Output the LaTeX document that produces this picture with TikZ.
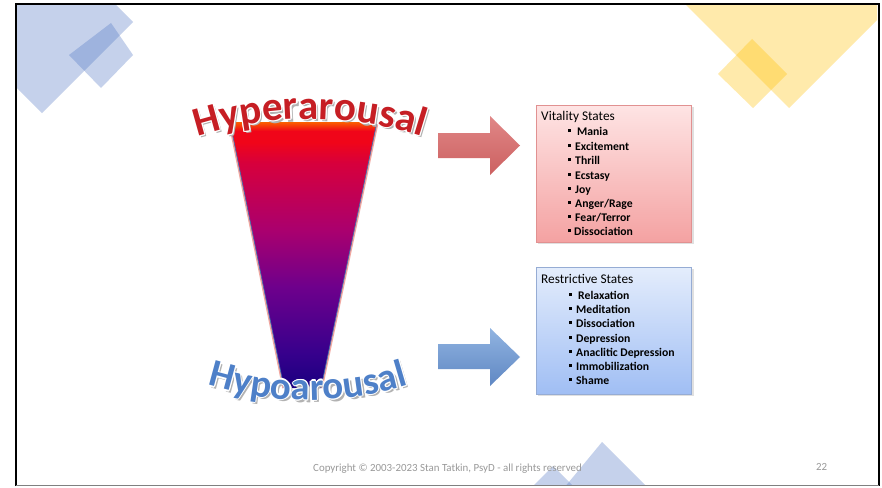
\documentclass[tikz,border=0pt]{standalone}
\usepackage{fontspec}
\setmainfont{Carlito}
\usetikzlibrary{decorations.text}

\definecolor{decoblue}{RGB}{79,118,196}
\definecolor{decoyellow}{RGB}{255,192,0}
\definecolor{fOrange}{RGB}{250,95,0}
\definecolor{fRed}{RGB}{240,5,25}
\definecolor{fCrimson}{RGB}{215,0,60}
\definecolor{fMagenta}{RGB}{170,0,110}
\definecolor{fPurple}{RGB}{110,0,140}
\definecolor{fIndigo}{RGB}{55,0,140}
\definecolor{fNavy}{RGB}{25,0,128}
\definecolor{fEdge}{RGB}{70,110,175}
\definecolor{fGlow}{RGB}{235,130,120}
\definecolor{hyperred}{RGB}{198,30,36}
\definecolor{hypoblue}{RGB}{78,128,200}
\definecolor{pinktop}{RGB}{254,228,228}
\definecolor{pinkbot}{RGB}{244,162,162}
\definecolor{pinkline}{RGB}{225,145,145}
\definecolor{bluetop}{RGB}{228,237,252}
\definecolor{bluebot}{RGB}{160,190,244}
\definecolor{blueline}{RGB}{150,172,212}
\definecolor{arrowredtop}{RGB}{224,135,135}
\definecolor{arrowredbot}{RGB}{204,96,96}
\definecolor{arrowbluetop}{RGB}{145,180,225}
\definecolor{arrowbluebot}{RGB}{95,135,195}

\pgfdeclareverticalshading{funnelshade}{100bp}{color(0bp)=(fNavy); color(25bp)=(fNavy); color(31.6bp)=(fIndigo); color(44bp)=(fPurple); color(54.7bp)=(fMagenta); color(67.3bp)=(fCrimson); color(71.2bp)=(fRed); color(73.3bp)=(fRed); color(75bp)=(fOrange); color(100bp)=(fOrange)}

\newcommand{\hyperfont}{\fontsize{41}{41}\selectfont\bfseries}
\newcommand{\hypofont}{\fontsize{39}{39}\selectfont\bfseries}
\newcommand{\sqbullet}{\rule{3.2pt}{3.2pt}}

\tikzset{
  deco/.style={fill=#1, fill opacity=0.33},
  hyperarc/.style={decorate, decoration={text along path, text align=center, text={|\hyperfont|Hyperarousal}}},
  hypoarc/.style={decorate, decoration={text along path, text align=center, text={|\hypofont|Hypoarousal}}},
  statebox/.style={minimum width=155pt, minimum height=#1, inner sep=0pt, line width=0.8pt},
  boxtitle/.style={anchor=base west, inner sep=0pt, font=\fontsize{13.3}{14}\selectfont},
  boxitem/.style={anchor=base west, inner sep=0pt, font=\fontsize{11.7}{12}\selectfont\bfseries},
  bulletmark/.style={inner sep=0pt},
  footer/.style={anchor=base west, inner sep=0pt, text=black!40, font=\fontsize{10.9}{11}\selectfont},
}

\begin{document}
\begin{tikzpicture}[x=1pt,y=-1pt]
\useasboundingbox (0,0) rectangle (882,487);
\fill[white] (0,0) rectangle (882,487);

% translucent corner decorations
\begin{scope}
  \clip (17,5) rectangle (877,485);
  \fill[deco=decoblue] (133,22) -- (42,113) -- (-49,22) -- (42,-69) -- cycle;
  \fill[deco=decoblue] (111,23) -- (133,55) -- (101,88) -- (69,55) -- cycle;
  \fill[deco=decoyellow] (789,108) -- (680,-1) -- (789,-110) -- (898,-1) -- cycle;
  \fill[deco=decoyellow] (752,39) -- (787,74) -- (753,108) -- (718,74) -- cycle;
  \fill[deco=decoblue] (602,442) -- (648,488) -- (564,488) -- cycle;
  \fill[deco=decoblue] (553,466) -- (577,490) -- (531,488) -- cycle;
\end{scope}

% slide frame
\draw[black, line width=2.4pt] (16.2,486) -- (16.2,4.2) -- (878.8,4.2) -- (878.8,486);
\draw[gray, line width=1pt] (16,485.5) -- (879,485.5);

% arousal funnel
\coordinate (ftl) at (230,122);
\coordinate (ftr) at (377,122);
\coordinate (fbr) at (321,388);
\coordinate (fbl) at (284,388);
\draw[fGlow, line width=3.5pt, opacity=0.7] (ftl) -- (fbl) (ftr) -- (fbr);
\shade[shading=funnelshade] (ftl) -- (ftr) -- (fbr) -- (fbl) -- cycle;
\draw[fEdge, line width=0.7pt] (ftl) -- (fbl) (ftr) -- (fbr);

% curved headings: shadow, white rim, then colour
\path[hyperarc, decoration={text color=black!30}, shift={(2.2,2.4)}]
  (310,489) ++(240:370) arc[start angle=240, end angle=300, radius=370];
\foreach \dx/\dy in {-1.1/0, 1.1/0, 0/-1.1, 0/1.1, -0.8/-0.8, 0.8/-0.8, -0.8/0.8, 0.8/0.8}{
  \path[hyperarc, decoration={text color=white}, shift={(\dx,\dy)}]
    (310,489) ++(240:370) arc[start angle=240, end angle=300, radius=370];
}
\path[hyperarc, decoration={text color=hyperred}]
  (310,489) ++(240:370) arc[start angle=240, end angle=300, radius=370];

\path[hypoarc, decoration={text color=black!30}, shift={(2.2,2.4)}]
  (308,60) ++(120:340) arc[start angle=120, end angle=60, radius=340];
\foreach \dx/\dy in {-1.1/0, 1.1/0, 0/-1.1, 0/1.1, -0.8/-0.8, 0.8/-0.8, -0.8/0.8, 0.8/0.8}{
  \path[hypoarc, decoration={text color=white}, shift={(\dx,\dy)}]
    (308,60) ++(120:340) arc[start angle=120, end angle=60, radius=340];
}
\path[hypoarc, decoration={text color=hypoblue}]
  (308,60) ++(120:340) arc[start angle=120, end angle=60, radius=340];

% block arrows
\shade[top color=arrowredtop, bottom color=arrowredbot]
  (438,133) -- (490,133) -- (490,116) -- (520,145.5) -- (490,175) -- (490,158) -- (438,158) -- cycle;
\shade[top color=arrowbluetop, bottom color=arrowbluebot]
  (438,344) -- (490,344) -- (490,328) -- (520,357) -- (490,386) -- (490,369) -- (438,369) -- cycle;

% state boxes
\fill[black, opacity=0.12] (538,107) rectangle (694,244);
\node[statebox=137pt, draw=pinkline, top color=pinktop, bottom color=pinkbot] (vital) at (613.5,173.5) {};
\fill[black, opacity=0.12] (538,269) rectangle (694,396);
\node[statebox=127pt, draw=blueline, top color=bluetop, bottom color=bluebot] (restr) at (613.5,330.5) {};

\node[boxtitle] (vtitle) at (541,120.5) {Vitality States};
\foreach \label/\cy/\tx [count=\i] in {Mania/131/577, Excitement/146/575, Thrill/160/575, Ecstasy/175/575, Joy/189/575, Anger\slash Rage/203/575, Fear\slash Terror/217/575, Dissociation/231/574}{
  \node[bulletmark] (vb\i) at (569.5,\cy-0.6) {\sqbullet};
  \node[boxitem] (vi\i) at (\tx,\cy+4) {\label};
}

\node[boxtitle] (rtitle) at (541,283.5) {Restrictive States};
\foreach \label/\cy/\tx [count=\i] in {Relaxation/295/578, Meditation/309/576, Dissociation/323/576, Depression/338/576, Anaclitic Depression/352/576, Immobilization/366/576, Shame/380/576}{
  \node[bulletmark] (rb\i) at (570.5,\cy-0.6) {\sqbullet};
  \node[boxitem] (ri\i) at (\tx,\cy+4) {\label};
}

% footer
\node[footer] (copy) at (313,471) {Copyright © 2003-2023 Stan Tatkin, PsyD - all rights reserved};
\node[footer] (pageno) at (816,470) {22};
\end{tikzpicture}
\end{document}
